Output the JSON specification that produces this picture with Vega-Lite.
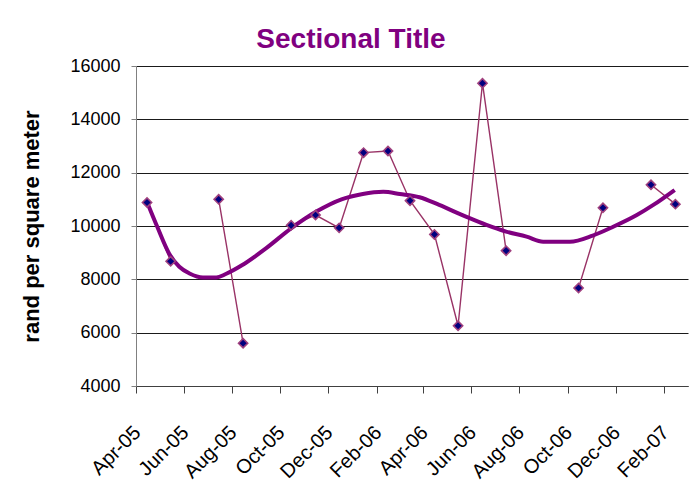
{
  "$schema": "https://vega.github.io/schema/vega-lite/v6.json",
  "width": 552,
  "height": 320,
  "autosize": {"type": "none"},
  "padding": {"left": 136, "top": 66, "right": 1, "bottom": 97},
  "background": "white",
  "config": {"view": {"stroke": null}, "font": "Liberation Sans"},
  "title": {
    "text": "Sectional Title",
    "fontSize": 28,
    "fontWeight": "bold",
    "color": "#800080",
    "font": "Liberation Sans",
    "anchor": "middle",
    "frame": "group",
    "dx": -61,
    "offset": 3
  },
  "datasets": {
    "prices": [
      {"date": "2005-04-15", "value": 10880},
      {"date": "2005-05-15", "value": 8680},
      {"date": "2005-06-15", "value": null},
      {"date": "2005-07-15", "value": 11000},
      {"date": "2005-08-15", "value": 5605},
      {"date": "2005-09-15", "value": null},
      {"date": "2005-10-15", "value": 10025},
      {"date": "2005-11-15", "value": 10410},
      {"date": "2005-12-15", "value": 9930},
      {"date": "2006-01-15", "value": 12750},
      {"date": "2006-02-15", "value": 12810},
      {"date": "2006-03-15", "value": 10950},
      {"date": "2006-04-15", "value": 9685},
      {"date": "2006-05-15", "value": 6260},
      {"date": "2006-06-15", "value": 15355},
      {"date": "2006-07-15", "value": 9075},
      {"date": "2006-08-15", "value": null},
      {"date": "2006-09-15", "value": null},
      {"date": "2006-10-15", "value": 7675},
      {"date": "2006-11-15", "value": 10685},
      {"date": "2006-12-15", "value": null},
      {"date": "2007-01-15", "value": 11545},
      {"date": "2007-02-15", "value": 10820}
    ],
    "trend": [
      {"date": "2005-04-15", "value": 10900},
      {"date": "2005-04-28", "value": 9970},
      {"date": "2005-05-13", "value": 8970},
      {"date": "2005-05-26", "value": 8470},
      {"date": "2005-06-08", "value": 8220},
      {"date": "2005-06-25", "value": 8070},
      {"date": "2005-07-12", "value": 8070},
      {"date": "2005-07-24", "value": 8200},
      {"date": "2005-08-14", "value": 8535},
      {"date": "2005-09-13", "value": 9160},
      {"date": "2005-10-15", "value": 9910},
      {"date": "2005-11-16", "value": 10540},
      {"date": "2005-12-18", "value": 11000},
      {"date": "2006-01-14", "value": 11200},
      {"date": "2006-02-09", "value": 11280},
      {"date": "2006-03-02", "value": 11200},
      {"date": "2006-03-27", "value": 11080},
      {"date": "2006-04-21", "value": 10790},
      {"date": "2006-05-25", "value": 10350},
      {"date": "2006-06-20", "value": 10040},
      {"date": "2006-07-15", "value": 9790},
      {"date": "2006-08-10", "value": 9600},
      {"date": "2006-08-31", "value": 9410},
      {"date": "2006-10-04", "value": 9410},
      {"date": "2006-11-02", "value": 9640},
      {"date": "2006-11-28", "value": 9970},
      {"date": "2006-12-28", "value": 10410},
      {"date": "2007-01-18", "value": 10790},
      {"date": "2007-02-14", "value": 11350}
    ]
  },
  "encoding": {
    "x": {
      "field": "date",
      "type": "temporal",
      "scale": {
        "type": "utc",
        "domain": [
          {"year": 2005, "month": 4, "date": 1, "utc": true},
          {"year": 2007, "month": 3, "date": 3, "utc": true}
        ]
      },
      "axis": {
        "title": null,
        "grid": false,
        "values": [
          {"year": 2005, "month": 4, "date": 1, "utc": true},
          {"year": 2005, "month": 6, "date": 1, "utc": true},
          {"year": 2005, "month": 8, "date": 1, "utc": true},
          {"year": 2005, "month": 10, "date": 1, "utc": true},
          {"year": 2005, "month": 12, "date": 1, "utc": true},
          {"year": 2006, "month": 2, "date": 1, "utc": true},
          {"year": 2006, "month": 4, "date": 1, "utc": true},
          {"year": 2006, "month": 6, "date": 1, "utc": true},
          {"year": 2006, "month": 8, "date": 1, "utc": true},
          {"year": 2006, "month": 10, "date": 1, "utc": true},
          {"year": 2006, "month": 12, "date": 1, "utc": true},
          {"year": 2007, "month": 2, "date": 1, "utc": true}
        ],
        "format": "%b-%y",
        "labelAngle": -45,
        "labelAlign": "right",
        "labelBaseline": "top",
        "labelFontSize": 20,
        "labelColor": "black",
        "labelPadding": 29,
        "labelOffset": -6,
        "labelOverlap": false,
        "labelFlush": false,
        "tickSize": 7,
        "tickColor": "#404040",
        "domainColor": "#404040"
      }
    },
    "y": {
      "field": "value",
      "type": "quantitative",
      "scale": {"domain": [4000, 16000], "nice": false, "zero": false},
      "axis": {
        "values": [4000, 6000, 8000, 10000, 12000, 14000, 16000],
        "format": "d",
        "title": "rand per square meter",
        "titleFontSize": 22,
        "titleFontWeight": "bold",
        "titleColor": "black",
        "titlePadding": 26,
        "labelFontSize": 18,
        "labelColor": "black",
        "labelPadding": 11,
        "tickSize": 5,
        "tickColor": "#808080",
        "domainColor": "#808080",
        "grid": true,
        "gridColor": "#1a1a1a",
        "gridWidth": 1
      }
    }
  },
  "layer": [
    {
      "data": {"name": "prices"},
      "mark": {"type": "line", "color": "#993366", "strokeWidth": 1.4, "invalid": "break-paths-filter-domains"}
    },
    {
      "data": {"name": "trend"},
      "mark": {"type": "line", "color": "#800080", "strokeWidth": 4, "interpolate": "monotone"}
    },
    {
      "data": {"name": "prices"},
      "mark": {"type": "point", "shape": "diamond", "filled": true, "fill": "#000080", "stroke": "#A0407E", "strokeWidth": 1.6, "size": 85, "opacity": 1}
    }
  ]
}
